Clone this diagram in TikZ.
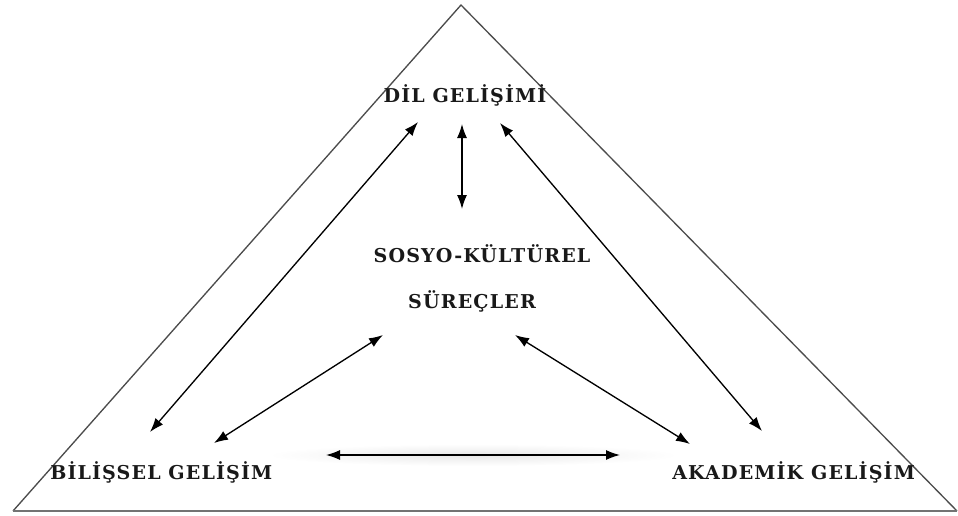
\documentclass[tikz,border=0pt]{standalone}
\usepackage{fontspec}
\setmainfont{DejaVu Serif}[LetterSpace=6]
\usetikzlibrary{arrows.meta}
\begin{document}
\begin{tikzpicture}[x=0.75pt,y=-0.75pt,
  lbl/.style={font=\bfseries\fontsize{14.3}{16}\selectfont, text=black!90, inner sep=0pt},
  biarrow/.style={line width=1pt, {Latex[length=10.5pt,width=7.5pt]}-{Latex[length=10.5pt,width=7.5pt]}},
  frame/.style={line width=1pt, draw=black!70}]
\useasboundingbox (0,0) rectangle (958,515);
% triangle
\coordinate (apex) at (461,5);
\coordinate (bl) at (13,511);
\coordinate (br) at (957,511);
\draw[frame, line join=miter] (bl) -- (apex) -- (br);
\draw[line width=2.2pt, draw=black!55] (bl) -- (br);
% glow behind horizontal arrow
\shade[inner color=black!9, outer color=white] (473,455) ellipse (205 and 11);
% labels
\node[lbl] (dil) at (465,95) {DİL GELİŞİMİ};
\node[lbl] (sos1) at (482,254) {SOSYO-KÜLTÜREL};
\node[lbl] (sos2) at (472,301) {SÜREÇLER};
\node[lbl, anchor=west] (bil) at (50,472) {BİLİŞSEL GELİŞİM};
\node[lbl, anchor=west] (aka) at (672,472) {AKADEMİK GELİŞİM};
% arrow end points
\coordinate (a1) at (150,432); \coordinate (a2) at (418,122);
\coordinate (b1) at (462,124); \coordinate (b2) at (462,209);
\coordinate (c1) at (500,123); \coordinate (c2) at (762,431);
\coordinate (d1) at (214,443); \coordinate (d2) at (383,335);
\coordinate (e1) at (515,335); \coordinate (e2) at (690,444);
\coordinate (f1) at (326,455); \coordinate (f2) at (620,455);
\draw[biarrow] (a1) -- (a2);
\draw[biarrow] (b1) -- (b2);
\draw[biarrow] (c1) -- (c2);
\draw[biarrow] (d1) -- (d2);
\draw[biarrow] (e1) -- (e2);
\draw[biarrow] (f1) -- (f2);
\end{tikzpicture}
\end{document}
